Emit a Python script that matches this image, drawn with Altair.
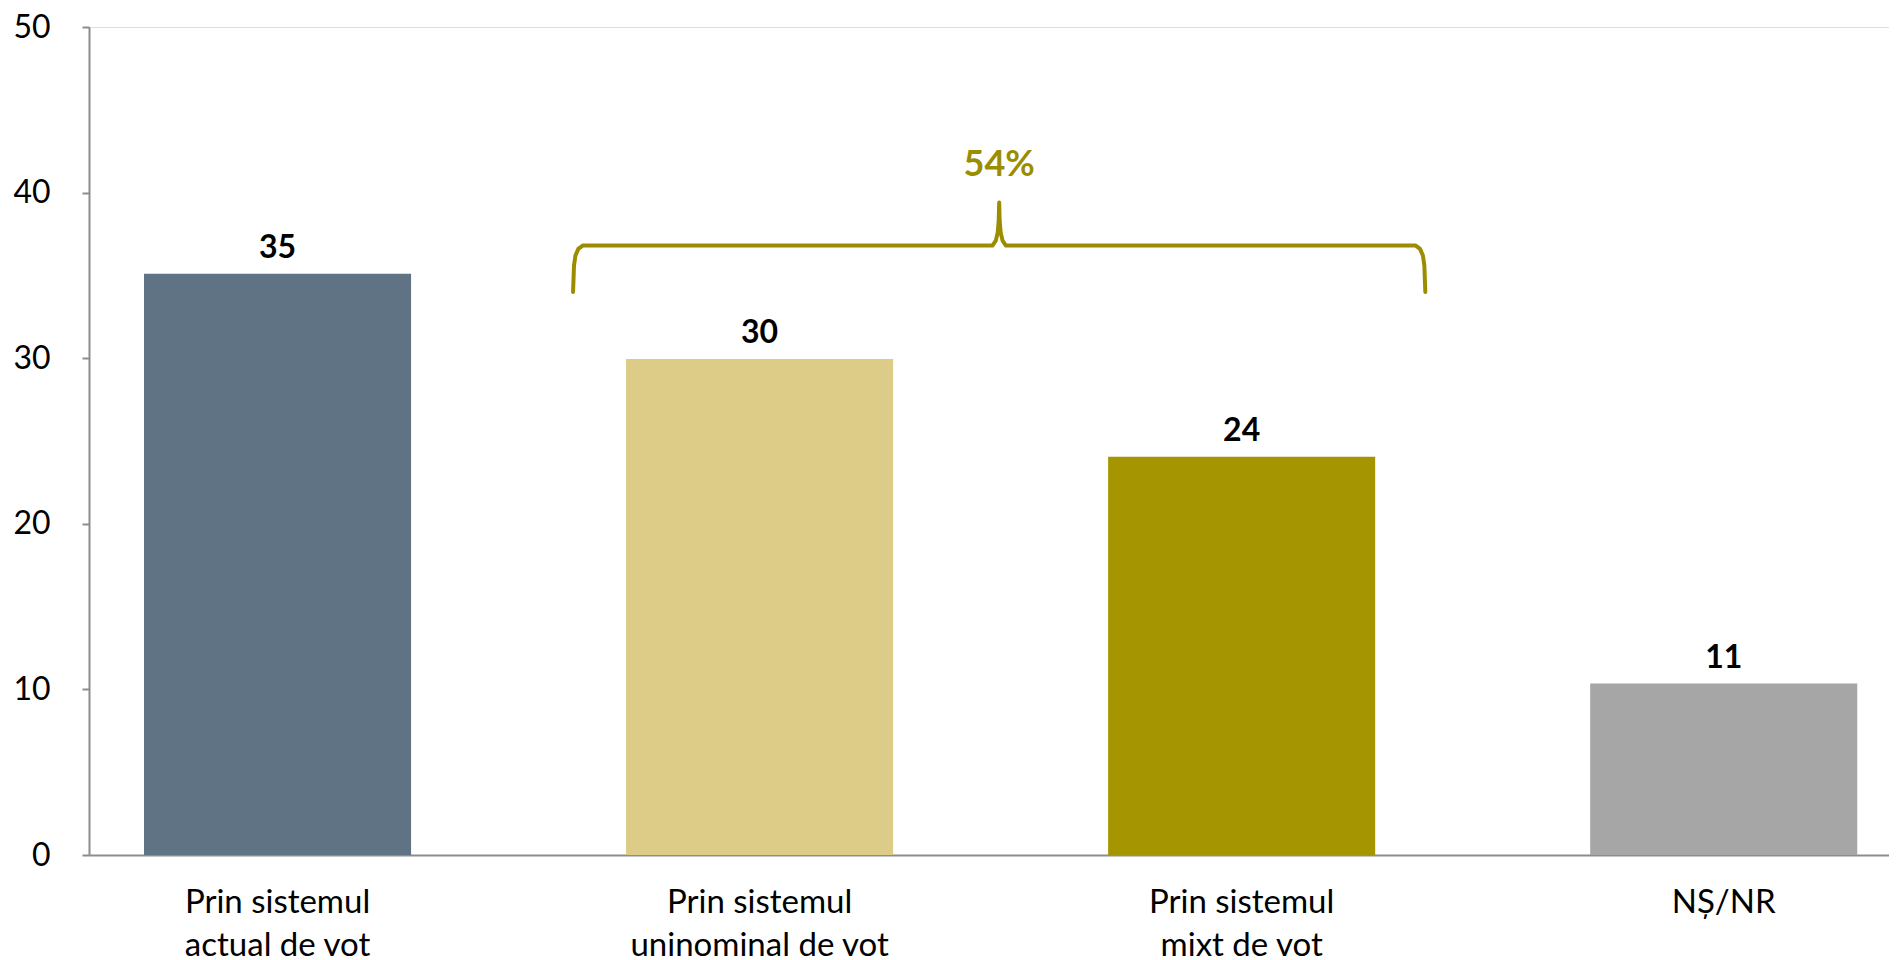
import altair as alt
import pandas as pd

# ---- data ----
categories = [
    "Prin sistemul|actual de vot",
    "Prin sistemul|uninominal de vot",
    "Prin sistemul|mixt de vot",
    "NȘ/NR",
]
values = [35.1, 29.95, 24.05, 10.35]
value_labels = ["35", "30", "24", "11"]
bar_colors = ["#5F7384", "#DDCC88", "#A59500", "#A6A6A6"]
y_ticks = [0, 10, 20, 30, 40, 50]

# brace annotation over bars 2 and 3 (x in category-index units, y in axis units)
brace_x = [0.613, 0.615, 0.618, 0.624, 0.633, 1.483, 1.490, 1.494, 1.496, 1.497,
           1.498, 1.500, 1.504, 1.511, 2.361, 2.370, 2.376, 2.379, 2.381]
brace_y = [34.0, 35.6, 36.2, 36.6, 36.8, 36.8, 37.1, 37.6, 38.3, 39.4,
           38.3, 37.6, 37.1, 36.8, 36.8, 36.6, 36.2, 35.6, 34.0]
brace_label = ["54%"]
brace_label_x = [1.497]
brace_label_y = [41.0]

# ---- layout ----
W, H = 1800, 828
n = len(categories)
pad_inner, pad_outer, align = 0.446, 0.090, 0.634
step = W / (n - pad_inner + 2 * pad_outer)
offset = (W - step * (n - pad_inner)) * align
center0 = offset + step * (1 - pad_inner) / 2
idx_domain = [-center0 / step, -center0 / step + W / step]

FONT = "Lato"
BRACE = "#9C8D00"

bars_df = pd.DataFrame({"cat": categories, "value": values, "label": value_labels})
brace_df = pd.DataFrame({"x": brace_x, "y": brace_y, "order": list(range(len(brace_x)))})
brace_text_df = pd.DataFrame({"x": brace_label_x, "y": brace_label_y, "t": brace_label})

x_band = alt.X(
    "cat:N",
    sort=None,
    scale=alt.Scale(domain=categories, paddingInner=pad_inner,
                    paddingOuter=pad_outer, align=align),
    axis=alt.Axis(title=None, labelAngle=0, ticks=False,
                  labelExpr="split(datum.label, '|')", labelLimit=0,
                  labelFont=FONT, labelFontSize=33, labelColor="#000000",
                  labelPadding=31, labelLineHeight=43,
                  domainColor="#8C8C8C", domainWidth=2),
)
y_q = alt.Y(
    "value:Q",
    scale=alt.Scale(domain=[0, 50], nice=False, zero=True),
    axis=alt.Axis(title=None, values=y_ticks, grid=False,
                  labelFont=FONT, labelFontSize=32, labelColor="#000000",
                  labelPadding=32, tickSize=7, tickWidth=2, tickColor="#8C8C8C",
                  domainColor="#8C8C8C", domainWidth=2),
)

bars = alt.Chart(bars_df).mark_bar().encode(
    x=x_band,
    y=y_q,
    color=alt.Color("cat:N", scale=alt.Scale(domain=categories, range=bar_colors), legend=None),
)

bar_text = alt.Chart(bars_df).mark_text(
    font=FONT, fontSize=32, fontWeight="bold", color="#000000",
    baseline="alphabetic", dy=-16,
).encode(x=alt.X("cat:N", sort=None), y=alt.Y("value:Q"), text="label:N")

base = alt.layer(bars, bar_text)

x_idx = alt.X("x:Q", scale=alt.Scale(domain=idx_domain, nice=False, zero=False), axis=None)

brace = alt.Chart(brace_df).mark_line(
    color=BRACE, strokeWidth=4, strokeCap="round", strokeJoin="round"
).encode(x=x_idx, y=alt.Y("y:Q"), order="order:Q")

brace_text = alt.Chart(brace_text_df).mark_text(
    font=FONT, fontSize=36, fontWeight="bold", color=BRACE, baseline="alphabetic"
).encode(x=x_idx, y=alt.Y("y:Q"), text="t:N")

ann = alt.layer(brace, brace_text)

chart = (
    alt.layer(base, ann)
    .resolve_scale(x="independent")
    .properties(
        width=W, height=H,
        autosize=alt.AutoSizeParams(type="none"),
        padding={"left": 81, "top": 19, "right": 0, "bottom": 112},
    )
    .configure_view(stroke=None)
    .configure(background="white")
)

chart.save("out.html", embed_options={"renderer": "svg", "actions": False})
